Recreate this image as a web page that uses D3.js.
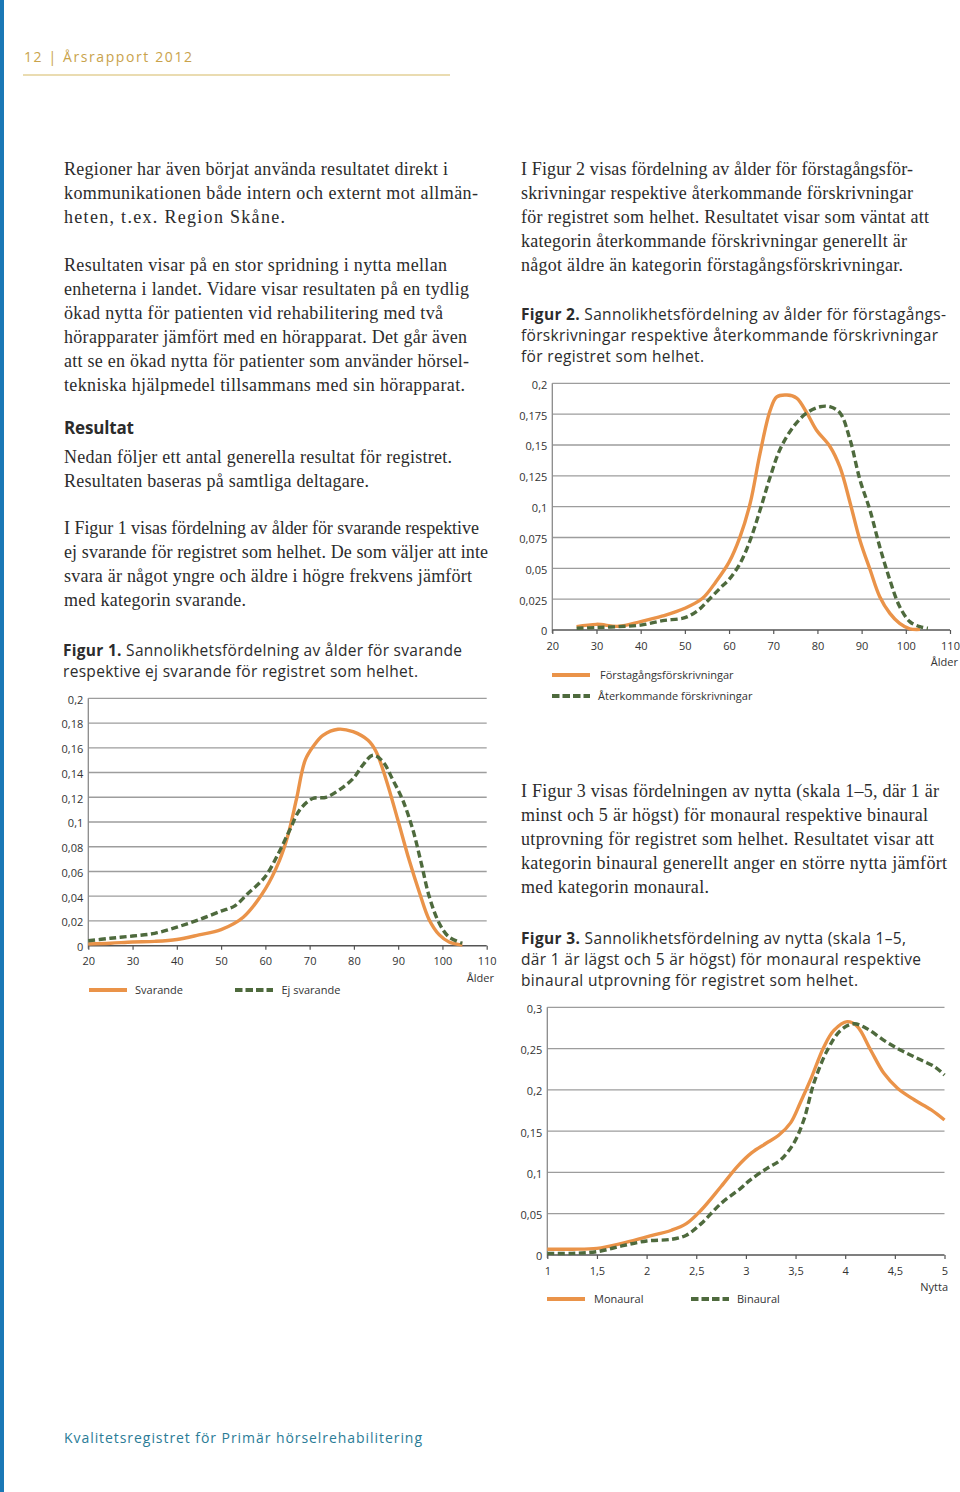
<!DOCTYPE html>
<html><head><meta charset="utf-8">
<script src="https://cdn.jsdelivr.net/npm/d3@7/dist/d3.min.js"></script>
<style>
html,body{margin:0;padding:0;background:#fff;}
svg{display:block;}
</style></head>
<body>
<svg id="page" width="960" height="1492"></svg>
<script>
// ---------- DATA ----------
// Figure 1: age distribution, respondents vs non-respondents
const fig1Categories = ["Svarande", "Ej svarande"];
const fig1SvarandeAge = [20,25,30,35,40,45,50,55,60,63.2,65,67,69,71,73,76.4,79.8,83.2,85,87.3,89.9,92.5,94.8,97,99.3,101.5,104.5];
const fig1SvarandeVal = [0.0014,0.002,0.003,0.0035,0.005,0.0087,0.013,0.023,0.046,0.069,0.088,0.118,0.15,0.162,0.170,0.175,0.173,0.166,0.157,0.134,0.102,0.069,0.043,0.021,0.0087,0.003,0.0005];
const fig1EjAge = [20,25,30,35,40,45,50,53,56,60,63,65.5,67.8,70.7,73.7,76.7,79.8,82,84.3,86.5,88.8,91,93.3,95.2,97,99.3,101.5,104.5];
const fig1EjVal = [0.004,0.006,0.0078,0.010,0.015,0.021,0.028,0.032,0.042,0.056,0.075,0.0935,0.110,0.119,0.120,0.126,0.135,0.146,0.154,0.149,0.134,0.118,0.094,0.067,0.040,0.018,0.007,0.002];
const fig1XTicks = [20,30,40,50,60,70,80,90,100,110];
const fig1YTicks = [0,0.02,0.04,0.06,0.08,0.1,0.12,0.14,0.16,0.18,0.2];
const fig1YLabels = ["0","0,02","0,04","0,06","0,08","0,1","0,12","0,14","0,16","0,18","0,2"];

// Figure 2: first-time vs returning prescriptions
const fig2Categories = ["Förstagångsförskrivningar", "Återkommande förskrivningar"];
const fig2FirstAge = [25.5,30,35,40,45,50,54,57,60,62.5,64.8,67,69.3,70.8,73.1,75.3,77.6,79.8,82.8,85.1,87.4,89.6,91.9,94.1,96.4,98.6,100.9,103.2];
const fig2FirstVal = [0.0027,0.0046,0.003,0.0068,0.0114,0.0176,0.0257,0.039,0.055,0.0757,0.103,0.143,0.178,0.189,0.1905,0.188,0.176,0.162,0.149,0.132,0.103,0.073,0.049,0.027,0.0135,0.0054,0.001,0.0005];
const fig2ReturnAge = [25.5,30,35,40,45,50,53,55,58,60,62.5,64.8,67,69.3,71.6,74.6,77.6,80.6,82.8,85.1,87.4,89.6,91.9,94.1,96.4,98.6,100.9,103.2,105];
const fig2ReturnVal = [0.0014,0.002,0.0027,0.004,0.0076,0.010,0.016,0.023,0.034,0.041,0.054,0.073,0.097,0.124,0.147,0.165,0.176,0.181,0.181,0.176,0.154,0.122,0.097,0.0675,0.0405,0.019,0.0068,0.0027,0.0014];
const fig2XTicks = [20,30,40,50,60,70,80,90,100,110];
const fig2YTicks = [0,0.025,0.05,0.075,0.1,0.125,0.15,0.175,0.2];
const fig2YLabels = ["0","0,025","0,05","0,075","0,1","0,125","0,15","0,175","0,2"];

// Figure 3: benefit (scale 1-5), monaural vs binaural
const fig3Categories = ["Monaural", "Binaural"];
const fig3MonoX = [1,1.25,1.5,1.75,2,2.25,2.4,2.55,2.75,2.92,3.06,3.2,3.33,3.45,3.55,3.65,3.785,3.886,4.02,4.12,4.257,4.39,4.527,4.695,4.863,5];
const fig3MonoVal = [0.0069,0.007,0.008,0.014,0.022,0.030,0.038,0.0545,0.083,0.108,0.124,0.135,0.145,0.16,0.185,0.212,0.252,0.272,0.2826,0.277,0.248,0.22,0.202,0.188,0.176,0.1635];
const fig3BinX = [1,1.25,1.5,1.75,2,2.25,2.4,2.55,2.75,2.95,3.045,3.213,3.348,3.48,3.583,3.684,3.82,3.953,4.088,4.22,4.39,4.56,4.73,4.9,5];
const fig3BinVal = [0.002,0.002,0.004,0.011,0.017,0.019,0.024,0.038,0.0625,0.081,0.091,0.105,0.115,0.135,0.1635,0.208,0.248,0.272,0.280,0.274,0.26,0.248,0.238,0.228,0.218];
const fig3XTicks = [1,1.5,2,2.5,3,3.5,4,4.5,5];
const fig3XLabels = ["1","1,5","2","2,5","3","3,5","4","4,5","5"];
const fig3YTicks = [0,0.05,0.1,0.15,0.2,0.25,0.3];
const fig3YLabels = ["0","0,05","0,1","0,15","0,2","0,25","0,3"];

// ---------- PAGE ----------
const svg = d3.select("#page");
const SERIF = "'Liberation Serif','DejaVu Serif',serif";
const SANS = "'Open Sans','Noto Sans','DejaVu Sans',sans-serif";
const TXT = "#2c2c2c";
const ORANGE = "#EA9349";
const GREEN = "#4E6A3D";

svg.append("rect").attr("x",0).attr("y",0).attr("width",4).attr("height",1492).attr("fill","#1a78b6");

// header
svg.append("text").attr("x",24).attr("y",62).attr("font-family",SANS).attr("font-size",14)
  .attr("fill","#c9a34c").attr("textLength",168).attr("lengthAdjust","spacing")
  .text("12 | Årsrapport 2012");
svg.append("line").attr("x1",23).attr("x2",450).attr("y1",75).attr("y2",75)
  .attr("stroke","#d6b964").attr("stroke-width",1.2);

function textLine(x, y, s, end, opts={}) {
  const t = svg.append("text").attr("x",x).attr("y",y)
    .attr("font-family",opts.font||SERIF).attr("font-size",opts.size||18)
    .attr("fill",opts.fill||TXT);
  if (opts.weight) t.attr("font-weight",opts.weight);
  if (end) t.attr("textLength",end-x).attr("lengthAdjust","spacing");
  if (opts.bold) {
    t.append("tspan").attr("font-weight","bold").text(opts.bold);
    t.append("tspan").text(s);
  } else t.text(s);
  return t;
}

// left column body
const leftLines = [
  [175,"Regioner har även börjat använda resultatet direkt i",448],
  [199,"kommunikationen både intern och externt mot allmän-",478],
  [223,"heten, t.ex. Region Skåne.",285],
  [271,"Resultaten visar på en stor spridning i nytta mellan",447],
  [295,"enheterna i landet. Vidare visar resultaten på en tydlig",469],
  [319,"ökad nytta för patienten vid rehabilitering med två",443],
  [343,"hörapparater jämfört med en hörapparat. Det går även",467],
  [367,"att se en ökad nytta för patienter som använder hörsel-",469],
  [391,"tekniska hjälpmedel tillsammans med sin hörapparat.",465],
  [463,"Nedan följer ett antal generella resultat för registret.",452],
  [487,"Resultaten baseras på samtliga deltagare.",369],
  [534,"I Figur 1 visas fördelning av ålder för svarande respektive",479],
  [558,"ej svarande för registret som helhet. De som väljer att inte",488],
  [582,"svara är något yngre och äldre i högre frekvens jämfört",472],
  [606,"med kategorin svarande.",246]
];
leftLines.forEach(d => textLine(64, d[0], d[1], d[2]));
textLine(64, 434, "Resultat", 134, {font:SANS, size:17, weight:"bold"});
textLine(63, 656, " Sannolikhetsfördelning av ålder för svarande", 462, {font:SANS, size:15.5, bold:"Figur 1."});
textLine(63, 677, "respektive ej svarande för registret som helhet.", 418, {font:SANS, size:15.5});

// right column body
const rightLines = [
  [175,"I Figur 2 visas fördelning av ålder för förstagångsför-",913],
  [199,"skrivningar respektive återkommande förskrivningar",913],
  [223,"för registret som helhet. Resultatet visar som väntat att",929],
  [247,"kategorin återkommande förskrivningar generellt är",907],
  [271,"något äldre än kategorin förstagångsförskrivningar.",903],
  [797,"I Figur 3 visas fördelningen av nytta (skala 1–5, där 1 är",939],
  [821,"minst och 5 är högst) för monaural respektive binaural",928],
  [845,"utprovning för registret som helhet. Resultatet visar att",934],
  [869,"kategorin binaural generellt anger en större nytta jämfört",947],
  [893,"med kategorin monaural.",709]
];
rightLines.forEach(d => textLine(521, d[0], d[1], d[2]));
textLine(521, 320, " Sannolikhetsfördelning av ålder för förstagångs-", 946, {font:SANS, size:15.5, bold:"Figur 2."});
textLine(521, 341, "förskrivningar respektive återkommande förskrivningar", 938, {font:SANS, size:15.5});
textLine(521, 362, "för registret som helhet.", 704, {font:SANS, size:15.5});
textLine(521, 944, " Sannolikhetsfördelning av nytta (skala 1–5,", 906, {font:SANS, size:15.5, bold:"Figur 3."});
textLine(521, 965, "där 1 är lägst och 5 är högst) för monaural respektive", 921, {font:SANS, size:15.5});
textLine(521, 986, "binaural utprovning för registret som helhet.", 858, {font:SANS, size:15.5});

// footer
textLine(64, 1443, "Kvalitetsregistret för Primär hörselrehabilitering", 422, {font:SANS, size:14, fill:"#2a7c97"});

// ---------- CHARTS ----------
function chart(cfg) {
  const g = svg.append("g");
  const x = d3.scaleLinear().domain(cfg.xDomain).range([cfg.left, cfg.right]);
  const y = d3.scaleLinear().domain(cfg.yDomain).range([cfg.bottom, cfg.top]);
  // gridlines
  g.selectAll(".grid").data(cfg.yTicks.slice(1)).join("line")
    .attr("x1", cfg.left).attr("x2", cfg.right)
    .attr("y1", d => y(d)).attr("y2", d => y(d))
    .attr("stroke", "#9d9d9d").attr("stroke-width", 1.3);
  // y axis
  const ya = d3.axisLeft(y).tickValues(cfg.yTicks).tickSize(0).tickPadding(5)
    .tickFormat((d,i) => cfg.yLabels[i]);
  const yg = g.append("g").attr("transform", `translate(${cfg.left},0)`).call(ya);
  yg.select(".domain").attr("stroke", "#8a8a8a").attr("stroke-width", 1.3)
    .attr("d", `M0,${cfg.top}V${cfg.bottom+3}`);
  yg.selectAll("text").attr("font-family", SANS).attr("font-size", 11).attr("fill", "#333").attr("dy", "0.45em");
  // x axis
  const xa = d3.axisBottom(x).tickValues(cfg.xTicks).tickSize(4).tickPadding(8)
    .tickFormat((d,i) => cfg.xLabels ? cfg.xLabels[i] : String(d));
  const xg = g.append("g").attr("transform", `translate(0,${cfg.bottom})`).call(xa);
  xg.select(".domain").attr("stroke", "#555").attr("stroke-width", 1.5)
    .attr("d", `M${cfg.left},0H${cfg.right}`);
  xg.selectAll(".tick line").attr("stroke", "#555").attr("stroke-width", 1.2);
  xg.selectAll("text").attr("font-family", SANS).attr("font-size", 11).attr("fill", "#333");
  // axis title
  g.append("text").attr("x", cfg.titleX).attr("y", cfg.bottom + 36)
    .attr("text-anchor", "end").attr("font-family", SANS).attr("font-size", 11).attr("fill", "#333")
    .text(cfg.axisTitle);
  // series
  const line = d3.line().x(d => x(d[0])).y(d => y(d[1])).curve(d3.curveCatmullRom.alpha(0.5));
  cfg.series.forEach(s => {
    const pts = s.x.map((v,i) => [v, s.y[i]]);
    g.append("path").attr("d", line(pts)).attr("fill", "none")
      .attr("stroke", s.color).attr("stroke-width", 3.4)
      .attr("stroke-dasharray", s.dashed ? "7,3.5" : null)
      .attr("stroke-linejoin", "round");
  });
  // legend
  cfg.legend.forEach((l, i) => {
    const s = cfg.series[i];
    g.append("line").attr("x1", l[0]).attr("x2", l[0] + 38).attr("y1", l[1]).attr("y2", l[1])
      .attr("stroke", s.color).attr("stroke-width", 4)
      .attr("stroke-dasharray", s.dashed ? "7.5,3" : null);
    g.append("text").attr("x", l[2]).attr("y", l[1] + 4)
      .attr("font-family", SANS).attr("font-size", 11).attr("fill", "#333")
      .text(cfg.categories[i]);
  });
}

chart({
  xDomain:[20,110], yDomain:[0,0.2], left:88.3, right:486.7, top:698.3, bottom:945.7,
  xTicks:fig1XTicks, yTicks:fig1YTicks, yLabels:fig1YLabels,
  axisTitle:"Ålder", titleX:494, categories:fig1Categories,
  series:[{x:fig1SvarandeAge,y:fig1SvarandeVal,color:ORANGE},{x:fig1EjAge,y:fig1EjVal,color:GREEN,dashed:true}],
  legend:[[89,990,135],[235,990,281.5]]
});
chart({
  xDomain:[20,110], yDomain:[0,0.2], left:552.3, right:950, top:383.3, bottom:630,
  xTicks:fig2XTicks, yTicks:fig2YTicks, yLabels:fig2YLabels,
  axisTitle:"Ålder", titleX:958, categories:fig2Categories,
  series:[{x:fig2FirstAge,y:fig2FirstVal,color:ORANGE},{x:fig2ReturnAge,y:fig2ReturnVal,color:GREEN,dashed:true}],
  legend:[[552,675,600],[552,696,598]]
});
chart({
  xDomain:[1,5], yDomain:[0,0.3], left:547.3, right:944.5, top:1007.3, bottom:1255,
  xTicks:fig3XTicks, xLabels:fig3XLabels, yTicks:fig3YTicks, yLabels:fig3YLabels,
  axisTitle:"Nytta", titleX:948, categories:fig3Categories,
  series:[{x:fig3MonoX,y:fig3MonoVal,color:ORANGE},{x:fig3BinX,y:fig3BinVal,color:GREEN,dashed:true}],
  legend:[[547,1299,594],[691,1299,737]]
});
</script>
</body></html>
